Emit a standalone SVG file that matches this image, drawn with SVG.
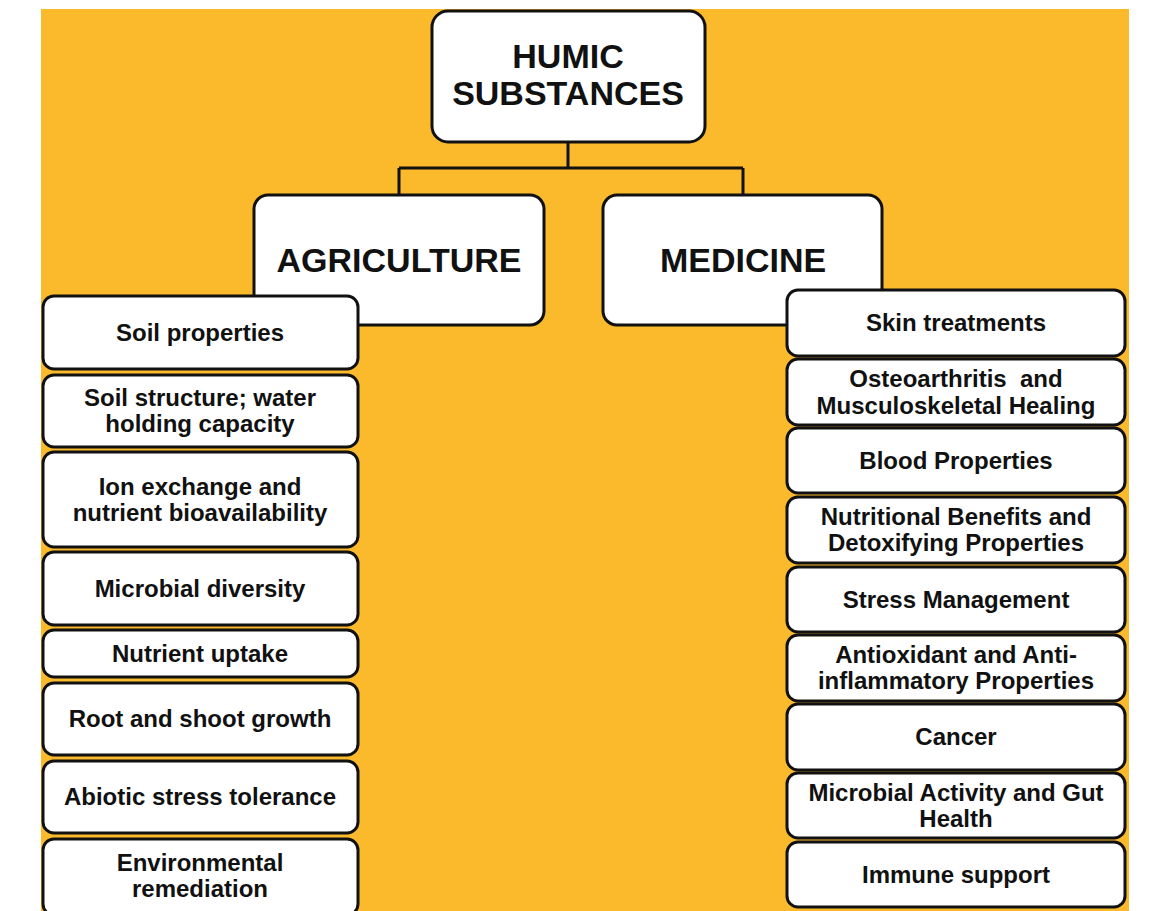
<svg xmlns="http://www.w3.org/2000/svg" width="1159" height="911" viewBox="0 0 1159 911">
<style>
.box{fill:#fff;stroke:#111;stroke-width:3}
.conn{fill:none;stroke:#111;stroke-width:3}
.t{font-family:"Liberation Sans",Arial,sans-serif;font-weight:bold;fill:#111;text-anchor:middle}
.big{font-size:34px}
.item{font-size:24px}
</style>
<rect x="0" y="0" width="1159" height="911" fill="#fff"/>
<rect x="41" y="9" width="1088" height="902" fill="#FBBA2C"/>
<g id="connectors">
<path class="conn" d="M568 142 V168 M399 168 H743 M399 168 V196 M743 168 V196"/>
</g>
<g id="humic">
<rect class="box" x="432" y="11" width="273" height="131" rx="16"/>
<text class="t big" x="568" y="68">HUMIC</text>
<text class="t big" x="568" y="105">SUBSTANCES</text>
</g>
<g id="agriculture">
<rect class="box" x="254" y="195" width="290" height="130" rx="14"/>
<text class="t big" x="399" y="272">AGRICULTURE</text>
</g>
<g id="medicine">
<rect class="box" x="603" y="195" width="279" height="130" rx="14"/>
<text class="t big" x="743" y="272">MEDICINE</text>
</g>
<g id="agri-items">
<g id="a1"><rect class="box" x="43" y="296" width="315" height="73" rx="11"/><text class="t item" x="200" y="341">Soil properties</text></g>
<g id="a2"><rect class="box" x="43" y="375" width="315" height="72" rx="11"/><text class="t item" x="200" y="406">Soil structure; water</text><text class="t item" x="200" y="432">holding capacity</text></g>
<g id="a3"><rect class="box" x="43" y="452" width="315" height="95" rx="11"/><text class="t item" x="200" y="495">Ion exchange and</text><text class="t item" x="200" y="521">nutrient bioavailability</text></g>
<g id="a4"><rect class="box" x="43" y="552" width="315" height="73" rx="11"/><text class="t item" x="200" y="597">Microbial diversity</text></g>
<g id="a5"><rect class="box" x="43" y="630" width="315" height="47" rx="11"/><text class="t item" x="200" y="662">Nutrient uptake</text></g>
<g id="a6"><rect class="box" x="43" y="683" width="315" height="72" rx="11"/><text class="t item" x="200" y="727">Root and shoot growth</text></g>
<g id="a7"><rect class="box" x="43" y="761" width="315" height="72" rx="11"/><text class="t item" x="200" y="805">Abiotic stress tolerance</text></g>
<g id="a8"><rect class="box" x="43" y="839" width="315" height="76" rx="11"/><text class="t item" x="200" y="871">Environmental</text><text class="t item" x="200" y="897">remediation</text></g>
</g>
<g id="med-items">
<g id="m1"><rect class="box" x="787" y="290" width="338" height="66" rx="11"/><text class="t item" x="956" y="331">Skin treatments</text></g>
<g id="m2"><rect class="box" x="787" y="359" width="338" height="66" rx="11"/><text class="t item" x="956" y="387" xml:space="preserve">Osteoarthritis  and</text><text class="t item" x="956" y="414">Musculoskeletal Healing</text></g>
<g id="m3"><rect class="box" x="787" y="428" width="338" height="65" rx="11"/><text class="t item" x="956" y="469">Blood Properties</text></g>
<g id="m4"><rect class="box" x="787" y="497" width="338" height="66" rx="11"/><text class="t item" x="956" y="525">Nutritional Benefits and</text><text class="t item" x="956" y="551">Detoxifying Properties</text></g>
<g id="m5"><rect class="box" x="787" y="567" width="338" height="65" rx="11"/><text class="t item" x="956" y="608">Stress Management</text></g>
<g id="m6"><rect class="box" x="787" y="635" width="338" height="66" rx="11"/><text class="t item" x="956" y="663">Antioxidant and Anti-</text><text class="t item" x="956" y="689">inflammatory Properties</text></g>
<g id="m7"><rect class="box" x="787" y="704" width="338" height="66" rx="11"/><text class="t item" x="956" y="745">Cancer</text></g>
<g id="m8"><rect class="box" x="787" y="773" width="338" height="65" rx="11"/><text class="t item" x="956" y="801">Microbial Activity and Gut</text><text class="t item" x="956" y="827">Health</text></g>
<g id="m9"><rect class="box" x="787" y="842" width="338" height="65" rx="11"/><text class="t item" x="956" y="883">Immune support</text></g>
</g>
</svg>
